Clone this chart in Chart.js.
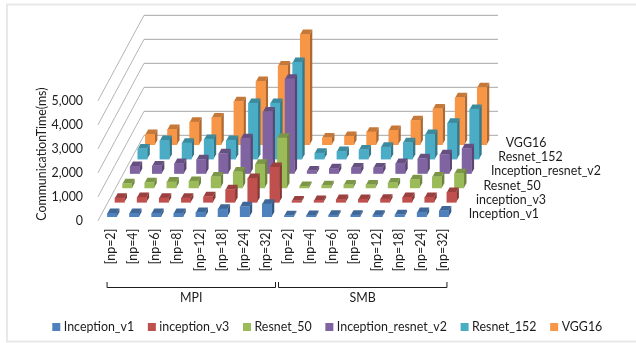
<!DOCTYPE html>
<html>
<head>
<meta charset="utf-8">
<style>
html, body { margin: 0; padding: 0; background: #fff; }
canvas { display: block; }
</style>
<script src="https://cdn.jsdelivr.net/npm/chart.js@4/dist/chart.umd.min.js"></script>
</head>
<body>
<canvas id="chart" width="636" height="343"></canvas>
<script>
const categories = ['[np=2]', '[np=4]', '[np=6]', '[np=8]', '[np=12]', '[np=18]', '[np=24]', '[np=32]',
                    '[np=2]', '[np=4]', '[np=6]', '[np=8]', '[np=12]', '[np=18]', '[np=24]', '[np=32]'];
const groups = ['MPI', 'SMB'];
const seriesNames = ['Inception_v1', 'inception_v3', 'Resnet_50', 'Inception_resnet_v2', 'Resnet_152', 'VGG16'];
const seriesColors = ['#4F81BD', '#C0504D', '#9BBB59', '#8064A2', '#4BACC6', '#F79646'];

const inceptionV1 = [140, 140, 140, 140, 180, 320, 420, 530, 50, 60, 70, 70, 70, 90, 180, 250];
const inceptionV3 = [180, 210, 180, 180, 240, 530, 1000, 1460, 60, 80, 120, 130, 140, 210, 210, 420];
const resnet50 = [180, 220, 250, 280, 460, 670, 990, 2080, 70, 100, 130, 130, 210, 350, 460, 600];
const inceptionResnetV2 = [300, 320, 420, 580, 830, 1460, 2570, 3940, 110, 210, 240, 240, 420, 620, 790, 1040];
const resnet152 = [430, 780, 670, 830, 780, 2330, 2330, 4030, 250, 320, 390, 500, 690, 1030, 1500, 2080];
const vgg16 = [430, 640, 940, 1125, 1800, 2640, 3290, 4600, 290, 350, 530, 600, 1010, 1500, 1960, 2380];
const seriesValues = [inceptionV1, inceptionV3, resnet50, inceptionResnetV2, resnet152, vgg16];

const FONT_SIZE = 12.4;
const FONT = FONT_SIZE + 'px Lato';
const TEXT_COLOR = '#1c1c1c';

// 每个系列往后退一排的偏移
const ROW_DX = 7.6;
const ROW_DY = 14.4;
const FRONT_DX = 1;
const FRONT_DY = 4;
// 柱子顶面/侧面的厚度
const BAR_DX = 2.7;
const BAR_DY = 4.8;

function shade(hex, k) {
    const n = parseInt(hex.slice(1), 16);
    const r = Math.round((n >> 16) * k);
    const g = Math.round(((n >> 8) & 255) * k);
    const b = Math.round((n & 255) * k);
    return `rgb(${r},${g},${b})`;
}

function poly(ctx, pts, color) {
    ctx.fillStyle = color;
    ctx.beginPath();
    pts.forEach((p, i) => i ? ctx.lineTo(p[0], p[1]) : ctx.moveTo(p[0], p[1]));
    ctx.closePath();
    ctx.fill();
}

const depth3d = {
    id: 'depth3d',
    beforeDraw(chart) {
        const ctx = chart.ctx;
        ctx.save();
        ctx.strokeStyle = '#e8e8e8';
        ctx.lineWidth = 2;
        ctx.strokeRect(7, 4.5, 640, 337);
        ctx.restore();
    },
    // 墙面网格线
    beforeDatasetsDraw(chart) {
        const ctx = chart.ctx;
        const yScale = chart.scales.y;
        const left = chart.chartArea.left - 2;
        ctx.save();
        ctx.lineWidth = 1;
        yScale.ticks.forEach(t => {
            const y = yScale.getPixelForValue(t.value);
            ctx.strokeStyle = '#b4b4b4';
            ctx.beginPath();
            ctx.moveTo(left, y);
            ctx.lineTo(left + 46, y - 85.4);
            ctx.stroke();
            ctx.strokeStyle = '#a6a6a6';
            ctx.beginPath();
            ctx.moveTo(left + 46, y - 85.4);
            ctx.lineTo(498, y - 85.4);
            ctx.stroke();
        });
        ctx.restore();
    },
    beforeDatasetDraw(chart, args) {
        const ctx = chart.ctx;
        const color = seriesColors[args.index];
        ctx.save();
        ctx.translate(FRONT_DX + ROW_DX * args.index, -FRONT_DY - ROW_DY * args.index);
        args.meta.data.forEach(bar => {
            const p = bar.getProps(['x', 'y', 'base', 'width'], true);
            const l = p.x - p.width / 2;
            const r = p.x + p.width / 2;
            poly(ctx, [[l, p.y], [r, p.y], [r + BAR_DX, p.y - BAR_DY], [l + BAR_DX, p.y - BAR_DY]], shade(color, 0.8));
            poly(ctx, [[r, p.y], [r + BAR_DX, p.y - BAR_DY], [r + BAR_DX, p.base - BAR_DY], [r, p.base]], shade(color, 0.7));
        });
    },
    afterDatasetDraw(chart) {
        chart.ctx.restore();
    },
    afterDraw(chart) {
        const ctx = chart.ctx;
        const xScale = chart.scales.x;
        ctx.save();
        ctx.font = FONT;
        ctx.fillStyle = TEXT_COLOR;
        ctx.textBaseline = 'middle';

        // 右侧系列名
        ctx.textAlign = 'left';
        seriesNames.forEach((name, i) => {
            ctx.fillText(name, 468.7 + 7.4 * i, 214 - 14.2 * i);
        });

        // 分组括号 MPI / SMB
        const pitch = xScale.getPixelForValue(1) - xScale.getPixelForValue(0);
        ctx.strokeStyle = TEXT_COLOR;
        ctx.lineWidth = 1;
        groups.forEach((g, i) => {
            const from = xScale.getPixelForValue(i * 8) - (i ? pitch / 2 - 1 : 4.5);
            const to = xScale.getPixelForValue(i * 8 + 7) + (i ? 4.5 : pitch / 2 - 1);
            ctx.beginPath();
            ctx.moveTo(from + 0.5, 282);
            ctx.lineTo(from + 0.5, 287.5);
            ctx.lineTo(to - 0.5, 287.5);
            ctx.lineTo(to - 0.5, 282);
            ctx.stroke();
            ctx.textAlign = 'center';
            ctx.fillText(g, (from + to) / 2, 298);
        });

        // 图例
        ctx.textAlign = 'left';
        let x = 52.3;
        seriesNames.forEach((name, i) => {
            ctx.fillStyle = seriesColors[i];
            ctx.fillRect(x, 323, 8, 8);
            ctx.fillStyle = TEXT_COLOR;
            ctx.fillText(name, x + 11.5, 327);
            x += 11.5 + ctx.measureText(name).width + 13.7;
        });
        ctx.restore();
    }
};

new Chart(document.getElementById('chart'), {
    type: 'bar',
    data: {
        labels: categories,
        datasets: seriesNames.map((name, i) => ({
            label: name,
            data: seriesValues[i],
            backgroundColor: seriesColors[i],
            barThickness: 9.3,
            grouped: false,
            clip: false
        }))
    },
    options: {
        responsive: false,
        animation: false,
        locale: 'en-US',
        layout: { padding: { top: 100.7, right: 182, left: 0, bottom: 0 } },
        plugins: { legend: { display: false }, tooltip: { enabled: false } },
        scales: {
            x: {
                grid: { display: false, drawTicks: false },
                border: { display: false },
                ticks: { color: TEXT_COLOR, autoSkip: false, minRotation: 90, maxRotation: 90, padding: 8, font: { family: 'Lato', size: FONT_SIZE } },
                afterFit(scale) { scale.height = 122.3; }
            },
            y: {
                min: 0,
                max: 5000,
                grid: { display: false, drawTicks: false },
                border: { display: false },
                ticks: { color: TEXT_COLOR, stepSize: 1000, padding: 17, font: { family: 'Lato', size: FONT_SIZE } },
                title: {
                    display: true,
                    text: 'CommunicationTime(ms)',
                    color: TEXT_COLOR,
                    align: 'start',
                    padding: { top: 35, bottom: 0 },
                    font: { family: 'Lato', size: FONT_SIZE }
                },
                afterFit(scale) { scale.width = 100; }
            }
        }
    },
    plugins: [depth3d]
});
</script>
</body>
</html>
